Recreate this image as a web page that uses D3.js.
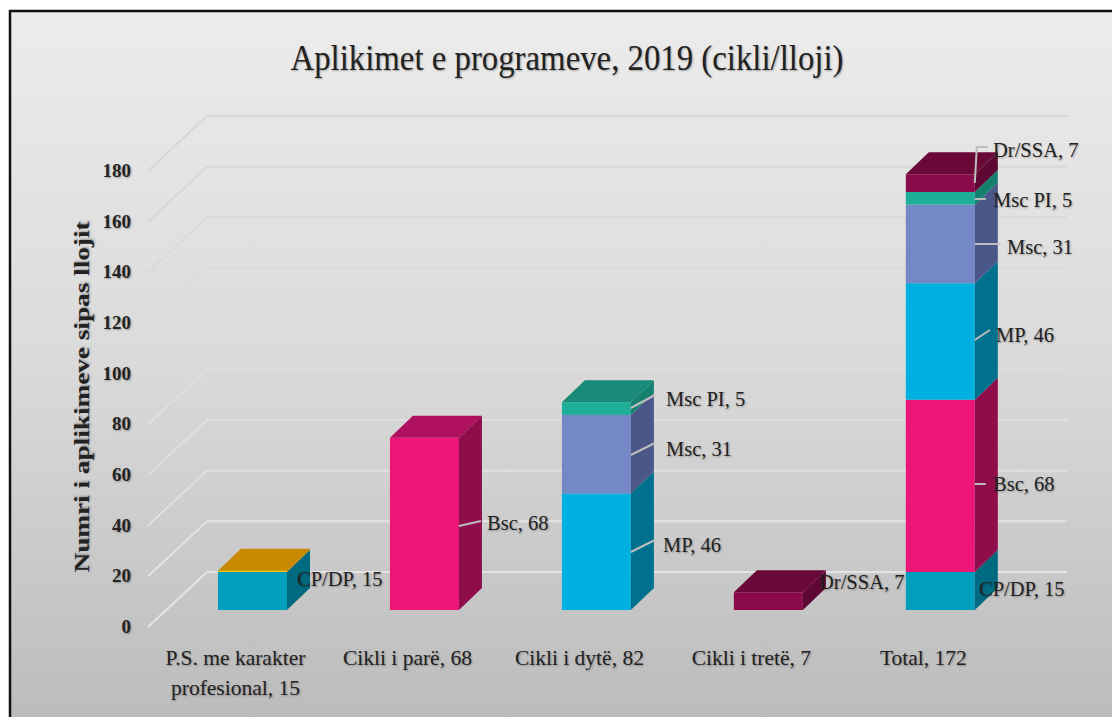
<!DOCTYPE html>
<html><head><meta charset="utf-8">
<script src="https://cdn.jsdelivr.net/npm/d3@7"></script>
<style>
html,body{margin:0;padding:0;background:#fff;overflow:hidden}
text{font-family:"Liberation Serif",serif;fill:#222;text-shadow:1px 1px 2px rgba(0,0,0,.3);font-variant-numeric:oldstyle-nums}
</style></head><body><svg id="c" width="1112" height="717"></svg>
<script>
const titleText="Aplikimet e programeve, 2019 (cikli/lloji)";
const axisTitle="Numri i aplikimeve sipas llojit";
const categories=["P.S. me karakter profesional, 15","Cikli i parë, 68","Cikli i dytë, 82","Cikli i tretë, 7","Total, 172"];
const tickValues=[0,20,40,60,80,100,120,140,160,180];
const seriesNames=["CP/DP","Bsc","MP","Msc","Msc PI","Dr/SSA","Tjetër"];
const cpdp=[15,0,0,0,15];
const bsc=[0,68,0,0,68];
const mp=[0,0,46,0,46];
const msc=[0,0,31,0,31];
const mscpi=[0,0,5,0,5];
const drssa=[0,0,0,7,7];
const other=[0.5,0,0,0,0];
const seriesValues=[cpdp,bsc,mp,msc,mscpi,drssa,other];
const frontColors=["#009fbd","#ee1578","#00b0e0","#7488c8","#1fae98","#8a0a4a","#f5c000"];
const sideColors=["#006a80","#8e0d4a","#00708f","#4a5788","#14806f","#5e0732","#a87a00"];
const topColors=["#007f97","#b01060","#0090b5","#5c6ca0","#178a78","#6a0838","#c98a00"];

// label placement relative to the bar's right front edge and the segment middle
const labelLayout={
 "0-0":{x:297,y:579},
 "1-1":{x:487,y:523,line:[[0,2],[22,-3]]},
 "2-2":{x:663,y:545,line:[[0,0],[24,-12]],fixedY:552},
 "2-3":{x:666,y:449,line:[[0,0],[24,-12]],fixedY:455},
 "2-4":{x:666,y:399,line:[[0,0],[24,-13]],fixedY:408},
 "3-5":{x:819,y:582},
 "4-0":{x:979,y:589},
 "4-1":{x:993,y:484,line:[[0,0],[11,0]],fixedY:484},
 "4-2":{x:996,y:335,line:[[0,0],[15,-10]],fixedY:340},
 "4-3":{x:1007,y:247,line:[[0,0],[25,0]],fixedY:244},
 "4-4":{x:993,y:200,line:[[0,0],[11,0]],fixedY:199},
 "4-5":{x:993,y:150,line:[[0,0],[2,-36],[13,-36]],fixedY:183}
};

const svg=d3.select("#c");
const defs=svg.append("defs");
const g=defs.append("linearGradient").attr("id","bg").attr("gradientUnits","userSpaceOnUse").attr("x1",0).attr("y1",11).attr("x2",0).attr("y2",717);
g.append("stop").attr("offset",0).attr("stop-color","#ececec");
g.append("stop").attr("offset",.5).attr("stop-color","#dadada");
g.append("stop").attr("offset",1).attr("stop-color","#bcbcbc");
svg.append("rect").attr("x",10).attr("y",11).attr("width",1120).attr("height",730).attr("fill","url(#bg)").attr("stroke","#111").attr("stroke-width",2.5);

const depthX=59,depthY=-55,barDX=23,barDY=-22;
const yFront=d3.scaleLinear().domain([0,180]).range([627,171]);
const yBar=d3.scaleLinear().domain([0,180]).range([610,154]);
const x=d3.scaleBand().domain(categories).range([166.4,1026.4]).paddingInner(.5988).paddingOuter(.3);

// gridlines: side wall + back wall
const gridCol=d3.scaleLinear().domain([0,180]).range(["#e4e4e4","#d6d6d6"]);
svg.append("g").selectAll("path").data(tickValues).join("path")
 .attr("d",v=>d3.line()([[148,yFront(v)],[148+depthX,yFront(v)+depthY],[1067,yFront(v)+depthY]]))
 .attr("fill","none").attr("stroke",v=>gridCol(v)).attr("stroke-width",2);

// tick labels
svg.append("g").selectAll("text").data(tickValues).join("text")
 .attr("x",131).attr("y",v=>yFront(v)+6).attr("text-anchor","end")
 .attr("font-size",19).attr("font-weight","bold").text(d=>d);

// axis title
svg.append("text").attr("transform","translate(89,397) rotate(-90)").attr("text-anchor","middle")
 .attr("font-size",22).attr("font-weight","bold").attr("textLength",351).attr("lengthAdjust","spacingAndGlyphs").text(axisTitle);

// title
svg.append("text").attr("x",567).attr("y",70).attr("text-anchor","middle").attr("font-size",36)
 .attr("textLength",553).attr("lengthAdjust","spacingAndGlyphs").text(titleText);

// bars
const bars=svg.append("g");
const bw=x.bandwidth();
categories.forEach((cat,ci)=>{
  let acc=0,lastTop=null;
  const bx=x(cat);
  seriesValues.forEach((vals,si)=>{
    const v=vals[ci]; if(!v) return;
    const y0=yBar(acc),y1=yBar(acc+v);
    acc+=v; lastTop=si;
    bars.append("rect").attr("x",bx).attr("y",y1).attr("width",bw).attr("height",y0-y1).attr("fill",frontColors[si]);
    bars.append("path").attr("d",d3.line()([[bx+bw,y0],[bx+bw+barDX,y0+barDY],[bx+bw+barDX,y1+barDY],[bx+bw,y1]])+"Z").attr("fill",sideColors[si]);
  });
  const yt=yBar(acc);
  bars.append("path").attr("d",d3.line()([[bx,yt],[bx+barDX,yt+barDY],[bx+bw+barDX,yt+barDY],[bx+bw,yt]])+"Z").attr("fill",topColors[lastTop]);
});

// category labels
const catLabels=svg.append("g");
categories.forEach(cat=>{
  const cx=x(cat)+bw/2-17;
  let lines=[cat];
  if(cat.startsWith("P.S.")) lines=["P.S. me karakter","profesional, 15"];
  lines.forEach((l,i)=>catLabels.append("text").attr("x",cx).attr("y",665+i*30).attr("text-anchor","middle").attr("font-size",21.5).text(l));
});

// data labels
const dl=svg.append("g");
categories.forEach((cat,ci)=>{
  seriesValues.forEach((vals,si)=>{
    const v=vals[ci]; const lay=labelLayout[ci+"-"+si];
    if(!v||!lay) return;
    const ex=x(cat)+bw;
    if(lay.line){
      const sy=lay.fixedY!==undefined?lay.fixedY:lay.y+1;
      dl.append("path").attr("d",d3.line()(lay.line.map(p=>[ex+p[0],sy+p[1]]))).attr("fill","none").attr("stroke","#bdbdbd").attr("stroke-width",2);
    }
    dl.append("text").attr("x",lay.x).attr("y",lay.y+7).attr("font-size",20.5).text(seriesNames[si]+", "+v);
  });
});
</script></body></html>
